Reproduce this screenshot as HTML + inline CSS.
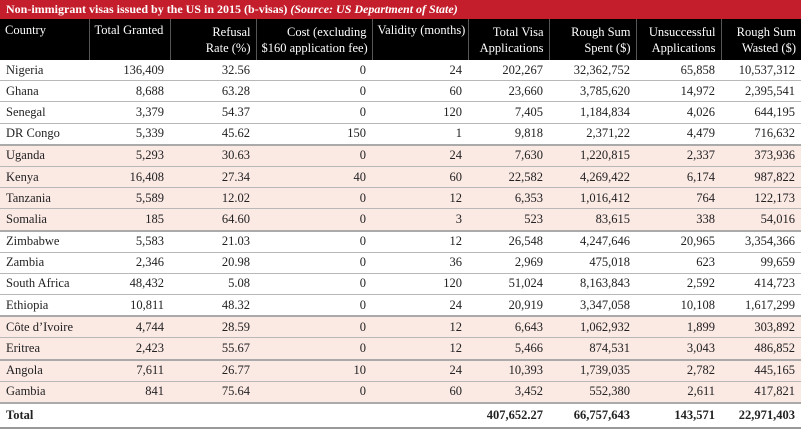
<!DOCTYPE html><html><head><style>
body{margin:0;width:801px;height:429px;overflow:hidden;background:#fff;font-family:"Liberation Serif",serif;}
.t{height:19px;background:#c41d2b;color:#fff;font-size:12px;line-height:19px;padding-left:6px;font-weight:bold;white-space:nowrap;}
table{border-collapse:collapse;width:801px;table-layout:fixed;font-size:12.5px;color:#222;}
th{background:#000;color:#fff;font-weight:normal;height:38px;text-align:right;padding:0 5px;line-height:16px;border-left:1px solid #555;vertical-align:middle;white-space:nowrap;font-size:12.5px;overflow:hidden;}
th:first-child{text-align:left;border-left:none;}
td{height:20.2px;padding:0 6px;text-align:right;border-bottom:1px solid #b8b8b8;white-space:nowrap;}
td:first-child{text-align:left;}
tr.p td{background:#fbe9e4;}
tr.g td{border-bottom:2px solid #aaa;}
tr.tot td{font-weight:bold;height:23px;border-bottom:2px solid #999;}
</style></head><body>
<div class="t">Non-immigrant visas issued by the US in 2015 (b-visas) <i>(Source: US Department of State)</i></div>
<table>
<colgroup><col style="width:89px"><col style="width:81px"><col style="width:86px"><col style="width:116px"><col style="width:96px"><col style="width:81px"><col style="width:87px"><col style="width:85px"><col style="width:80px"></colgroup>
<tr><th style="vertical-align:top;padding-top:3px">Country</th><th style="text-align:left;vertical-align:top;padding-top:3px">Total Granted</th><th>Refusal<br>Rate (%)</th><th>Cost (excluding<br>$160 application fee)</th><th style="text-align:left;vertical-align:top;padding-top:3px">Validity (months)</th><th>Total Visa<br>Applications</th><th>Rough Sum<br>Spent ($)</th><th>Unsuccessful<br>Applications</th><th>Rough Sum<br>Wasted ($)</th></tr>
<tr><td>Nigeria</td><td>136,409</td><td>32.56</td><td>0</td><td>24</td><td>202,267</td><td>32,362,752</td><td>65,858</td><td>10,537,312</td></tr>
<tr><td>Ghana</td><td>8,688</td><td>63.28</td><td>0</td><td>60</td><td>23,660</td><td>3,785,620</td><td>14,972</td><td>2,395,541</td></tr>
<tr><td>Senegal</td><td>3,379</td><td>54.37</td><td>0</td><td>120</td><td>7,405</td><td>1,184,834</td><td>4,026</td><td>644,195</td></tr>
<tr class="g"><td>DR Congo</td><td>5,339</td><td>45.62</td><td>150</td><td>1</td><td>9,818</td><td>2,371,22</td><td>4,479</td><td>716,632</td></tr>
<tr class="p"><td>Uganda</td><td>5,293</td><td>30.63</td><td>0</td><td>24</td><td>7,630</td><td>1,220,815</td><td>2,337</td><td>373,936</td></tr>
<tr class="p"><td>Kenya</td><td>16,408</td><td>27.34</td><td>40</td><td>60</td><td>22,582</td><td>4,269,422</td><td>6,174</td><td>987,822</td></tr>
<tr class="p"><td>Tanzania</td><td>5,589</td><td>12.02</td><td>0</td><td>12</td><td>6,353</td><td>1,016,412</td><td>764</td><td>122,173</td></tr>
<tr class="p g"><td>Somalia</td><td>185</td><td>64.60</td><td>0</td><td>3</td><td>523</td><td>83,615</td><td>338</td><td>54,016</td></tr>
<tr><td>Zimbabwe</td><td>5,583</td><td>21.03</td><td>0</td><td>12</td><td>26,548</td><td>4,247,646</td><td>20,965</td><td>3,354,366</td></tr>
<tr><td>Zambia</td><td>2,346</td><td>20.98</td><td>0</td><td>36</td><td>2,969</td><td>475,018</td><td>623</td><td>99,659</td></tr>
<tr><td>South Africa</td><td>48,432</td><td>5.08</td><td>0</td><td>120</td><td>51,024</td><td>8,163,843</td><td>2,592</td><td>414,723</td></tr>
<tr class="g"><td>Ethiopia</td><td>10,811</td><td>48.32</td><td>0</td><td>24</td><td>20,919</td><td>3,347,058</td><td>10,108</td><td>1,617,299</td></tr>
<tr class="p"><td>Côte d’Ivoire</td><td>4,744</td><td>28.59</td><td>0</td><td>12</td><td>6,643</td><td>1,062,932</td><td>1,899</td><td>303,892</td></tr>
<tr class="p g"><td>Eritrea</td><td>2,423</td><td>55.67</td><td>0</td><td>12</td><td>5,466</td><td>874,531</td><td>3,043</td><td>486,852</td></tr>
<tr class="p"><td>Angola</td><td>7,611</td><td>26.77</td><td>10</td><td>24</td><td>10,393</td><td>1,739,035</td><td>2,782</td><td>445,165</td></tr>
<tr class="p g"><td>Gambia</td><td>841</td><td>75.64</td><td>0</td><td>60</td><td>3,452</td><td>552,380</td><td>2,611</td><td>417,821</td></tr>
<tr class="tot"><td>Total</td><td></td><td></td><td></td><td></td><td>407,652.27</td><td>66,757,643</td><td>143,571</td><td>22,971,403</td></tr>
</table>
</body></html>
